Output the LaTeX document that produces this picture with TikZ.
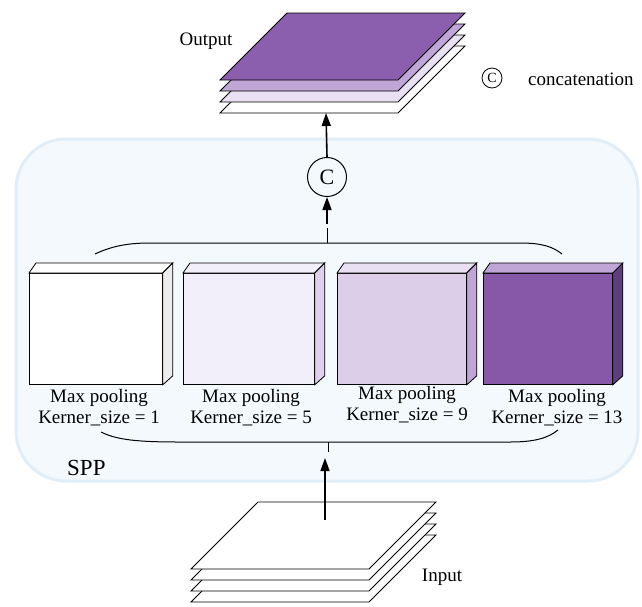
\documentclass[tikz,border=0pt]{standalone}
\usepackage{fontspec}
\setmainfont{Liberation Serif}
\usetikzlibrary{arrows.meta}

\definecolor{boxfill}{HTML}{F4F9FD}
\definecolor{boxline}{HTML}{E1EEF8}
\definecolor{pA}{HTML}{8B5EAE}
\definecolor{pB}{HTML}{BFA6D6}
\definecolor{pC}{HTML}{E9E1F3}
\definecolor{pD}{HTML}{F3EFFA}
\definecolor{pE}{HTML}{DED0EC}
\definecolor{pF}{HTML}{DCCEE9}
\definecolor{pG}{HTML}{5E3E7C}
\definecolor{pH}{HTML}{8758A8}
\definecolor{greyside}{HTML}{EDEDED}

% one flat feature-map sheet: bottom-left corner x, y, fill colour
\newcommand\mapsheet[3]{%
  \draw[sheet,fill=#3] (#1,#2) -- ++(178,0) -- ++(67,-67) -- ++(-178,0) -- cycle;}

% pooling block: name, left x, right x, front, top, side colours
\newcommand\poolblock[6]{%
  \node[draw,line width=0.8pt,fill=#4,minimum width=#3pt-#2pt,minimum height=111pt,inner sep=0,anchor=north west] (#1) at (#2,273) {};
  \draw[line width=0.8pt,fill=#5] (#1.north west) -- ++(7,-10) -- ([xshift=10pt,yshift=10pt]#1.north east) -- (#1.north east) -- cycle;
  \draw[line width=0.8pt,fill=#6] (#1.north east) -- ++(10,-10) -- ([xshift=10pt,yshift=9pt]#1.south east) -- (#1.south east) -- cycle;}

\begin{document}
\begin{tikzpicture}[x=1pt,y=-1pt,
  font=\fontsize{19}{21}\selectfont,
  sheet/.style={line width=0.8pt,line join=miter},
  flow/.style={line width=1.6pt,-{Triangle[length=13pt,width=9pt]}},
  bracket/.style={line width=1pt},
  lbl/.style={align=center,inner sep=0}]
\useasboundingbox (0,0) rectangle (642,606);

% SPP module background
\draw[boxline,fill=boxfill,line width=3pt,rounded corners=50pt] (16,139) rectangle (638,481);
\node[anchor=west,inner sep=0,font=\fontsize{23}{23}\selectfont] (spp) at (67,468) {SPP};

% output stack
\mapsheet{220}{113}{white}
\mapsheet{220}{102}{pC}
\mapsheet{220}{91}{pB}
\mapsheet{220}{80}{pA}
\node[inner sep=0] (outlbl) at (206,41) {Output};
\coordinate (outbase) at (326,113);

% legend
\node[draw,circle,minimum size=20pt,inner sep=0,line width=0.8pt,font=\fontsize{14}{14}\selectfont] (lc) at (492,78) {C};
\node[anchor=west,inner sep=0] (lt) at (528,79) {concatenation};

% concatenation node
\node[draw,circle,minimum size=39pt,inner sep=0,line width=1pt,font=\fontsize{22}{22}\selectfont] (cat) at (327,177) {C};
\draw[flow] (cat.north) -- (outbase);

% upper bracket collecting the pooled maps
\draw[bracket] (95,254) .. controls (112,246) and (128,243) .. (150,243) -- (520,243)
  .. controls (543,243) and (553,247) .. (562,254);
\coordinate (bt) at (327,243);
\coordinate (btend) at (327,228);
\coordinate (arrstart) at (327,224);
\draw[bracket] (bt) -- (btend);
\draw[flow] (arrstart) -- (cat.south);

% pooling blocks
\poolblock{m1}{29}{162}{white}{white}{greyside}
\poolblock{m2}{183}{314}{pD}{pD}{pE}
\poolblock{m3}{337}{466}{pF}{pC}{pB}
\poolblock{m4}{483}{612}{pH}{pB}{pG}

\node[lbl] (l1) at (99,408) {Max pooling\\Kerner\_size = 1};
\node[lbl] (l2) at (251,408) {Max pooling\\Kerner\_size = 5};
\node[lbl] (l3) at (407,405) {Max pooling\\Kerner\_size = 9};
\node[lbl] (l4) at (557,408) {Max pooling\\Kerner\_size = 13};

% lower bracket spreading the input
\draw[bracket] (101,432) .. controls (117,440) and (138,442) .. (180,442) -- (510,442)
  .. controls (535,442) and (548,438) .. (558,430);
\coordinate (bb) at (328,442);
\coordinate (bbend) at (328,452);
\draw[bracket] (bb) -- (bbend);

% input stack
\mapsheet{191}{602}{white}
\mapsheet{191}{591}{white}
\mapsheet{191}{580}{white}
\mapsheet{191}{569}{white}
\node[inner sep=0] (inlbl) at (442,577) {Input};
\coordinate (intop) at (325,520);
\coordinate (inhead) at (325,458);
\draw[flow] (intop) -- (inhead);

\end{tikzpicture}
\end{document}
